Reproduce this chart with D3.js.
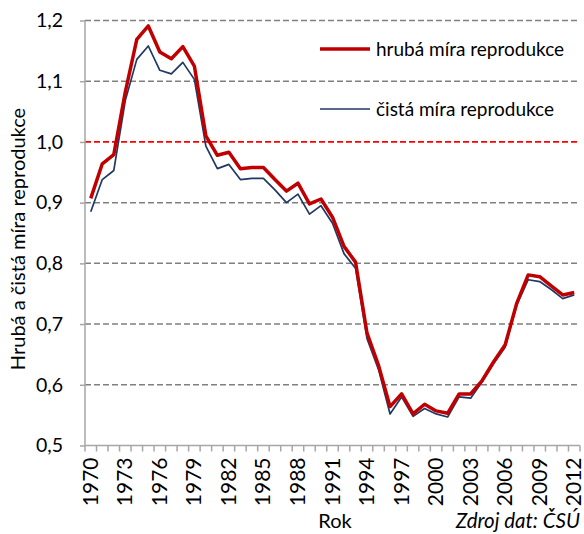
<!DOCTYPE html>
<html>
<head>
  <meta charset="utf-8">
  <script src="https://d3js.org/d3.v7.min.js"></script>
  <style>
    body { margin: 0; background: #fff; }
    text { font-family: Lato, "Open Sans", sans-serif; fill: #000; }
    .grid line { stroke: #808080; stroke-width: 1.5; stroke-dasharray: 6,3; }
    .axis path, .axis line { stroke: #a6a6a6; stroke-width: 1.5; }
  </style>
</head>
<body>
<div id="chartArea"></div>
<script>
  var years = d3.range(1970, 2013);
  // hrubá míra reprodukce
  var hruba = [0.907, 0.964, 0.979, 1.082, 1.169, 1.191, 1.148, 1.137, 1.157, 1.125,
               1.010, 0.978, 0.983, 0.956, 0.958, 0.958, 0.938, 0.919, 0.932, 0.898,
               0.906, 0.876, 0.828, 0.802, 0.685, 0.632, 0.564, 0.585, 0.552, 0.568,
               0.557, 0.553, 0.585, 0.585, 0.607, 0.638, 0.666, 0.734, 0.781, 0.778,
               0.763, 0.748, 0.752];
  // čistá míra reprodukce
  var cista = [0.885, 0.938, 0.953, 1.068, 1.136, 1.158, 1.118, 1.112, 1.131, 1.103,
               0.993, 0.956, 0.963, 0.938, 0.940, 0.940, 0.921, 0.900, 0.914, 0.881,
               0.895, 0.866, 0.816, 0.792, 0.676, 0.625, 0.552, 0.580, 0.548, 0.561,
               0.552, 0.547, 0.580, 0.578, 0.605, 0.635, 0.662, 0.731, 0.773, 0.770,
               0.757, 0.742, 0.748];
  var yTicks = [0.5, 0.6, 0.7, 0.8, 0.9, 1.0, 1.1, 1.2];
  var labelYears = years.filter(function(d) { return (d - 1970) % 3 === 0; });

  var w = 584, h = 534;
  var mLeft = 85, mRight = 580, mTop = 20.5, mBottom = 445.5;

  var svg = d3.select("#chartArea").append("svg")
      .attr("width", w).attr("height", h);

  var xScale = d3.scaleBand().domain(years).range([mLeft, mRight]).padding(0);
  var yScale = d3.scaleLinear().domain([0.5, 1.2]).range([mBottom, mTop]);
  var xc = function(i) { return xScale(years[i]) + xScale.bandwidth() / 2; };

  // gridlines
  svg.append("g").attr("class", "grid")
    .selectAll("line")
    .data(yTicks.filter(function(d) { return d > 0.5 && d !== 1.0; }))
    .enter().append("line")
    .attr("x1", mLeft).attr("x2", mRight)
    .attr("y1", function(d) { return yScale(d); })
    .attr("y2", function(d) { return yScale(d); });

  svg.append("line")
    .attr("x1", mLeft).attr("x2", mRight)
    .attr("y1", yScale(1.0)).attr("y2", yScale(1.0))
    .attr("stroke", "#ff0000").attr("stroke-width", 1.8)
    .attr("stroke-dasharray", "6,3");

  // y axis
  var yAxis = d3.axisLeft(yScale).tickValues(yTicks).tickSize(5).tickPadding(17)
      .tickFormat(function(d) { return d3.format(".1f")(d).replace(".", ","); });
  var gy = svg.append("g").attr("class", "axis")
      .attr("transform", "translate(" + mLeft + ",0)")
      .call(yAxis);
  gy.select(".domain").attr("d", "M0," + mTop + "V" + mBottom);
  gy.selectAll("text").style("font-size", "19.5px").attr("font-family", null);

  // x axis
  var gx = svg.append("g").attr("class", "axis")
      .attr("transform", "translate(0," + mBottom + ")");
  gx.append("path").attr("d", "M" + mLeft + ",0H" + mRight);
  gx.selectAll("line.tk")
    .data(years.concat([2013]))
    .enter().append("line")
    .attr("x1", function(d, i) { return i < years.length ? xScale(d) : mRight; })
    .attr("x2", function(d, i) { return i < years.length ? xScale(d) : mRight; })
    .attr("y1", 0).attr("y2", 6);
  gx.selectAll("text")
    .data(labelYears)
    .enter().append("text")
    .attr("transform", function(d) {
      return "translate(" + (xScale(d) + xScale.bandwidth() / 2 + 7) + ",12) rotate(-90)";
    })
    .attr("text-anchor", "end")
    .style("font-size", "21px")
    .text(function(d) { return d; });

  // lines
  var line = d3.line().x(function(d, i) { return xc(i); }).y(function(d) { return yScale(d); });
  svg.append("path").datum(cista)
    .attr("fill", "none").attr("stroke", "#1f3864").attr("stroke-width", 1.7)
    .attr("stroke-linejoin", "round").attr("d", line);
  svg.append("path").datum(hruba)
    .attr("fill", "none").attr("stroke", "#c00000").attr("stroke-width", 3.5)
    .attr("stroke-linejoin", "round").attr("d", line);

  // legend
  svg.append("line").attr("x1", 320).attr("x2", 370).attr("y1", 49).attr("y2", 49)
    .attr("stroke", "#c00000").attr("stroke-width", 3.5);
  svg.append("text").attr("x", 376).attr("y", 56).style("font-size", "19px")
    .text("hrubá míra reprodukce");
  svg.append("line").attr("x1", 320).attr("x2", 370).attr("y1", 109).attr("y2", 109)
    .attr("stroke", "#1f3864").attr("stroke-width", 1.7);
  svg.append("text").attr("x", 376).attr("y", 116).style("font-size", "19px")
    .text("čistá míra reprodukce");

  // axis titles
  svg.append("text")
    .attr("transform", "translate(25," + 239 + ") rotate(-90)")
    .attr("text-anchor", "middle").style("font-size", "20px")
    .text("Hrubá a čistá míra reprodukce");
  svg.append("text").attr("x", 335).attr("y", 528).attr("text-anchor", "middle")
    .style("font-size", "20px").text("Rok");
  svg.append("text").attr("x", 580).attr("y", 528).attr("text-anchor", "end")
    .style("font-size", "20.5px").style("font-style", "italic").text("Zdroj dat: ČSÚ");
</script>
</body>
</html>
